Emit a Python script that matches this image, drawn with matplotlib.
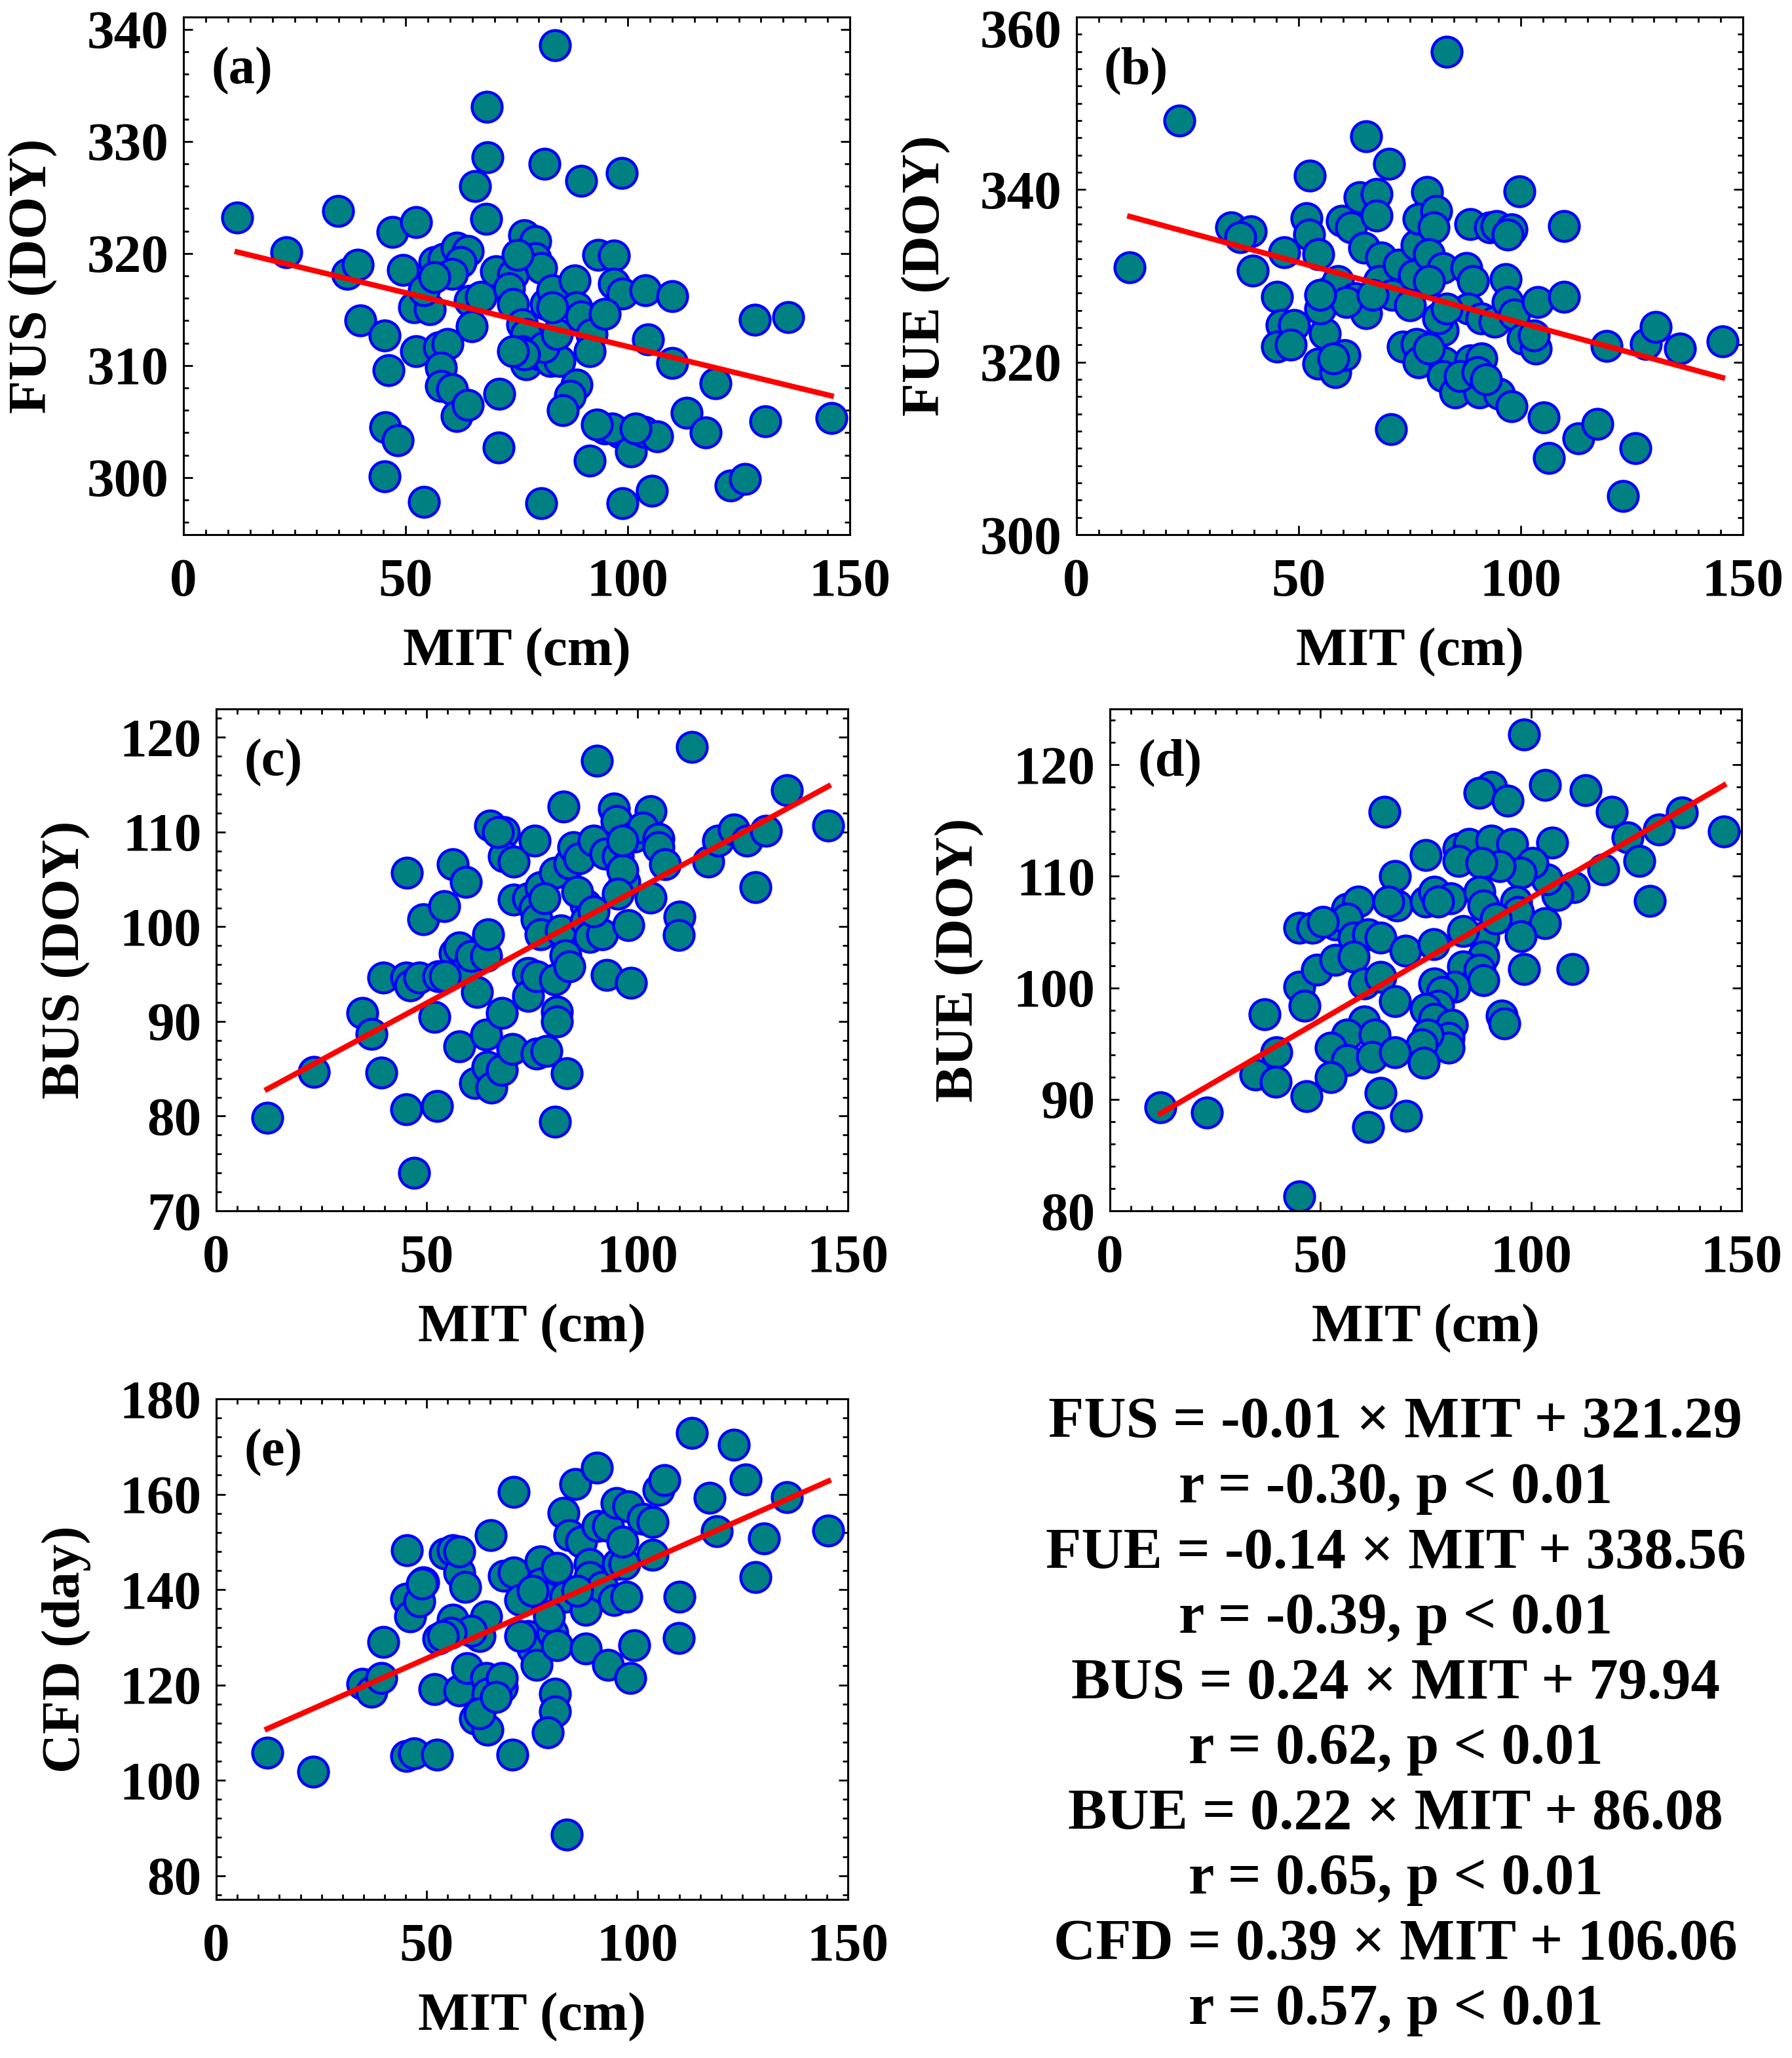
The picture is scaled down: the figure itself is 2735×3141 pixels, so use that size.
import numpy as np
import matplotlib.pyplot as plt
from matplotlib.ticker import MultipleLocator
from matplotlib.transforms import ScaledTranslation

plt.rcParams['font.family'] = ['Liberation Serif', 'DejaVu Serif']
plt.rcParams['font.weight'] = 'bold'
plt.rcParams['axes.labelweight'] = 'bold'

# MIT (cm) and phenology values
mit_a = [12.1, 23.1, 34.8, 36.9, 39.3, 39.8, 45.3, 46.1, 45.4, 48.3,
         45.3, 47.0, 52.4, 49.4, 54.2, 52.4, 51.9, 55.5, 54.1, 56.5,
         57.5, 59.5, 58.0, 58.0, 60.5, 61.5, 64.0, 58.5, 61.5, 64.0,
         62.4, 64.4, 66.9, 64.9, 65.6, 68.3, 68.5, 68.1, 71.1, 71.0,
         70.3, 74.2, 73.3, 74.2, 76.7, 79.2, 79.2, 80.6, 76.2, 77.2,
         76.2, 77.2, 80.1, 81.6, 83.1, 82.6, 84.6, 83.6, 81.3, 89.5,
         98.7, 88.0, 88.5, 89.5, 91.9, 91.4, 88.5, 87.0, 85.4, 80.6,
         91.4, 93.4, 96.9, 96.9, 98.8, 104.0, 110.1, 94.9, 104.5, 110.1,
         119.7, 94.9, 98.3, 100.8, 103.7, 106.7, 98.8, 105.5, 113.3, 117.5,
         128.6, 136.2, 131.0, 123.2, 126.4, 145.8, 81.1, 76.7, 84.1, 74.2,
         83.1, 75.2, 60.5, 56.5, 96.4, 93.0, 101.8]
fus = [323.2, 320.1, 323.8, 318.2, 319.0, 314.0, 312.7, 309.6, 304.5, 303.3,
       300.1, 321.9, 322.8, 318.5, 297.8, 311.3, 315.2, 315.0, 316.7, 319.2,
       311.6, 311.9, 309.8, 308.2, 307.9, 305.5, 306.5, 319.5, 320.5, 320.2,
       319.2, 315.8, 316.1, 313.5, 326.0, 333.1, 328.6, 323.1, 307.5, 302.7,
       318.4, 318.1, 316.9, 315.5, 321.6, 321.1, 319.6, 318.7, 313.7, 312.8,
       311.3, 310.1, 311.0, 315.5, 316.7, 310.4, 310.4, 338.6, 328.0, 326.5,
       327.2, 317.6, 315.2, 314.4, 312.8, 311.3, 308.3, 307.3, 306.0, 297.7,
       301.5, 319.9, 319.8, 317.3, 316.4, 316.7, 316.2, 314.6, 312.3, 310.2,
       308.4, 304.4, 304.0, 302.3, 304.1, 303.7, 297.7, 298.8, 305.8, 304.0,
       314.1, 314.3, 305.0, 299.3, 299.9, 305.3, 311.6, 311.0, 312.8, 311.3,
       315.2, 319.9, 318.2, 317.9, 304.4, 304.7, 304.4]

mit_b = [12.0, 23.2, 83.3, 65.2, 70.3, 52.5, 99.7, 109.8, 34.8, 39.2,
         36.8, 39.7, 46.8, 51.8, 52.3, 54.4, 45.1, 46.1, 49.0, 45.1,
         48.2, 55.9, 54.4, 58.3, 60.3, 54.9, 56.9, 58.8, 59.8, 61.8,
         63.7, 67.6, 67.6, 64.7, 68.6, 62.7, 65.2, 68.1, 71.1, 72.5,
         76.5, 76.0, 75.0, 78.9, 77.0, 80.9, 80.4, 79.4, 82.4, 79.4,
         73.5, 76.5, 77.0, 82.4, 82.8, 82.4, 85.3, 88.7, 91.2, 90.7,
         95.1, 98.0, 88.7, 93.1, 94.6, 98.0, 87.7, 89.2, 88.2, 91.2,
         94.1, 96.6, 97.1, 98.5, 100.5, 103.4, 103.9, 109.8, 105.1, 106.4,
         113.0, 117.2, 119.3, 128.1, 130.4, 135.8, 125.8, 123.0, 145.4, 70.8,
         57.8, 81.4, 79.4, 86.3, 90.2, 60.8, 66.7, 83.3, 92.2, 102.9,
         97.1, 54.9]
fue = [331.0, 348.0, 356.0, 346.2, 343.0, 341.6, 339.8, 335.8, 335.6, 335.2,
       334.5, 330.6, 332.7, 336.7, 334.8, 332.5, 327.6, 324.3, 324.3, 321.8,
       322.0, 323.3, 319.8, 318.8, 320.8, 326.2, 328.2, 329.4, 336.4, 335.6,
       339.1, 339.5, 337.0, 333.3, 332.1, 327.4, 325.7, 329.4, 327.8, 331.3,
       333.6, 330.1, 326.6, 339.7, 336.6, 337.5, 335.6, 332.5, 330.9, 329.4,
       321.8, 322.1, 320.0, 323.7, 320.0, 318.4, 316.5, 320.2, 320.4, 316.5,
       316.3, 314.9, 336.0, 335.6, 335.8, 335.4, 330.9, 329.4, 326.2, 325.1,
       324.7, 329.6, 327.0, 325.5, 322.7, 321.6, 327.0, 327.6, 313.6, 308.9,
       311.2, 312.8, 321.9, 322.1, 324.1, 321.6, 310.0, 304.5, 322.4, 312.2,
       320.4, 325.1, 321.6, 318.4, 318.8, 327.0, 327.8, 326.2, 318.0, 323.1,
       334.8, 327.8]

mit_c = [12.1, 23.2, 34.7, 36.8, 39.2, 39.7, 45.3, 45.1, 47.0, 52.4,
         45.1, 46.0, 48.2, 49.2, 54.1, 56.2, 59.3, 51.8, 52.8, 55.7,
         56.7, 57.7, 59.6, 62.0, 60.6, 64.1, 64.6, 57.7, 61.5, 64.1,
         64.4, 65.4, 67.8, 70.3, 67.8, 65.0, 68.3, 68.3, 70.7, 75.6,
         70.7, 74.1, 77.0, 75.6, 76.1, 77.0, 74.1, 74.1, 76.1, 76.1,
         78.5, 80.4, 80.9, 80.9, 83.3, 82.4, 80.4, 81.9, 82.9, 80.4,
         83.8, 84.8, 86.2, 87.7, 87.7, 88.7, 90.4, 91.6, 89.6, 92.5,
         92.7, 94.5, 95.0, 95.4, 96.9, 97.9, 98.5, 99.3, 103.2, 101.3,
         105.1, 105.1, 103.2, 106.6, 110.0, 109.8, 112.9, 116.9, 119.2, 122.9,
         126.0, 130.6, 128.1, 135.5, 145.4, 96.4, 83.8, 96.4, 78.0, 85.8,
         89.6, 95.4, 54.3, 66.9]
bus = [79.8, 84.7, 90.9, 88.7, 84.6, 94.6, 105.7, 80.7, 74.0, 81.1,
       94.6, 93.8, 94.6, 100.8, 102.2, 106.6, 104.7, 90.5, 94.8, 95.1,
       97.2, 97.8, 95.6, 93.1, 96.9, 96.9, 99.2, 87.4, 83.5, 88.6,
       85.2, 83.0, 84.9, 87.1, 90.9, 110.7, 110.0, 107.4, 106.9, 109.1,
       102.9, 103.0, 104.2, 102.0, 100.8, 99.2, 95.1, 92.7, 94.8, 86.6,
       86.9, 79.4, 91.0, 90.0, 84.5, 112.7, 94.4, 99.6, 97.0, 105.7,
       106.7, 108.4, 107.2, 102.3, 100.6, 98.9, 117.5, 99.2, 109.1, 107.7,
       94.9, 112.5, 111.2, 107.4, 104.7, 100.2, 94.1, 109.5, 112.2, 110.5,
       109.3, 108.4, 103.1, 106.6, 101.1, 99.1, 119.0, 106.9, 109.1, 110.3,
       109.1, 110.1, 104.2, 114.4, 110.7, 106.0, 95.8, 109.1, 103.0, 103.7,
       101.6, 103.5, 94.8, 110.0]

mit_d = [12.0, 23.0, 36.7, 39.6, 34.5, 39.4, 45.0, 46.7, 44.9, 48.1,
         44.9, 46.2, 49.1, 53.5, 53.5, 56.4, 58.9, 56.4, 57.9, 61.3,
         64.3, 57.9, 60.4, 64.3, 67.7, 70.1, 68.2, 65.2, 67.7, 75.0,
         76.9, 75.0, 77.0, 80.9, 82.8, 85.3, 82.8, 90.6, 87.7, 94.5,
         90.6, 95.5, 98.4, 103.3, 112.9, 119.2, 135.8, 145.8, 130.4, 122.9,
         125.8, 105.1, 117.2, 110.2, 106.3, 103.8, 100.4, 97.5, 92.6, 88.2,
         87.7, 88.7, 96.5, 97.0, 103.3, 97.5, 88.7, 83.8, 88.7, 98.4,
         109.9, 128.2, 83.8, 87.7, 88.7, 81.8, 77.0, 78.9, 77.9, 75.0,
         77.0, 81.3, 80.4, 80.4, 75.5, 74.0, 74.5, 93.1, 93.6, 60.4,
         56.4, 52.5, 56.4, 62.8, 62.3, 67.7, 52.5, 64.3, 70.3, 61.3,
         66.2, 50.6, 77.9, 91.6]
bue = [89.3, 88.8, 97.6, 94.2, 92.2, 91.6, 81.3, 90.3, 105.4, 105.4,
       100.1, 98.4, 101.6, 102.5, 105.7, 107.1, 107.7, 106.2, 104.5, 104.8,
       104.5, 102.8, 100.4, 101.0, 98.8, 103.3, 107.4, 115.8, 110.0, 111.9,
       103.9, 107.7, 108.6, 108.0, 112.5, 112.9, 111.4, 118.0, 117.5, 116.8,
       113.2, 112.9, 122.7, 118.2, 117.7, 115.8, 115.7, 114.0, 114.2, 113.5,
       111.4, 113.0, 110.6, 109.0, 108.3, 109.7, 111.2, 110.3, 110.9, 111.2,
       108.6, 107.4, 107.7, 106.8, 105.8, 104.6, 104.5, 105.1, 102.8, 101.7,
       101.7, 107.8, 101.9, 101.6, 100.7, 100.1, 100.4, 99.6, 98.4, 98.1,
       97.2, 96.7, 95.5, 94.6, 95.8, 94.9, 93.3, 97.5, 96.8, 97.0,
       95.8, 94.6, 93.5, 95.8, 93.8, 94.2, 92.0, 90.6, 88.5, 87.5,
       107.7, 105.9, 107.7, 106.2]

mit_e = [12.1, 23.1, 34.7, 36.8, 39.2, 39.7, 45.3, 45.1, 47.0, 52.4,
         45.1, 46.0, 48.2, 49.2, 54.3, 56.2, 51.8, 52.8, 56.2, 57.7,
         59.1, 57.7, 59.6, 61.5, 64.4, 64.1, 64.4, 67.8, 67.8, 62.5,
         64.1, 60.6, 65.2, 70.7, 70.4, 68.3, 70.7, 72.2, 74.1, 75.1,
         76.1, 77.0, 77.0, 78.0, 75.1, 80.4, 80.4, 78.8, 80.9, 79.9,
         80.9, 82.4, 83.3, 85.3, 90.4, 83.8, 86.7, 82.9, 88.7, 88.7,
         87.7, 87.7, 90.6, 93.0, 95.0, 97.9, 91.6, 94.5, 95.4, 93.0,
         97.4, 99.3, 98.4, 101.3, 103.7, 105.1, 106.4, 103.7, 96.9, 110.0,
         109.8, 112.9, 117.2, 118.9, 122.9, 125.7, 130.1, 128.1, 135.5, 145.4,
         48.9, 55.7, 79.0, 85.8, 96.4, 62.5, 66.4, 72.2, 57.7, 53.8]
cfd = [105.8, 101.8, 120.2, 118.5, 121.5, 129.0, 148.2, 105.1, 105.6, 105.4,
       138.1, 134.4, 137.5, 141.5, 147.5, 148.3, 119.1, 129.7, 133.7, 143.6,
       140.5, 118.8, 123.5, 113.0, 110.6, 121.5, 118.1, 119.5, 121.5, 130.3,
       134.4, 131.3, 151.4, 160.5, 105.4, 142.9, 143.6, 137.8, 130.3, 127.6,
       124.2, 145.9, 141.2, 138.5, 139.8, 118.1, 114.4, 110.0, 144.6, 131.0,
       128.3, 156.1, 88.6, 162.2, 165.6, 151.4, 150.0, 138.5, 145.3, 142.6,
       135.8, 127.6, 153.4, 153.4, 158.2, 157.5, 140.5, 137.8, 145.3, 124.2,
       138.5, 128.3, 121.5, 154.8, 154.1, 160.9, 162.9, 147.3, 145.3, 138.5,
       129.8, 172.8, 159.2, 152.3, 170.4, 163.1, 150.7, 142.6, 159.4, 152.4,
       141.2, 131.0, 134.4, 139.8, 150.0, 114.0, 117.4, 130.3, 148.0, 130.3]

# fitted lines (slope of FUS taken from the drawn line)
slopes = [-0.096, -0.14, 0.24, 0.22, 0.39]
intercepts = [321.29, 338.56, 79.94, 86.08, 106.06]

ylabels = ['FUS (DOY)', 'FUE (DOY)', 'BUS (DOY)', 'BUE (DOY)', 'CFD (day)']
tags = ['(a)', '(b)', '(c)', '(d)', '(e)']
eq_lines = ['FUS = -0.01 \u00d7 MIT + 321.29', 'r = -0.30, p < 0.01',
            'FUE = -0.14 \u00d7 MIT + 338.56', 'r = -0.39, p < 0.01',
            'BUS = 0.24 \u00d7 MIT + 79.94', 'r = 0.62, p < 0.01',
            'BUE = 0.22 \u00d7 MIT + 86.08', 'r = 0.65, p < 0.01',
            'CFD = 0.39 \u00d7 MIT + 106.06', 'r = 0.57, p < 0.01']

xs = [mit_a, mit_b, mit_c, mit_d, mit_e]
ys = [fus, fue, bus, bue, cfd]
ylims = [(294.9, 341.1), (300, 360), (70, 123), (80, 125), (75, 180)]
ymajor = [10, 20, 10, 10, 20]
yminor = [2, 2, 2, 2, 4]

W, H = 2735, 3141
# axes boxes in pixels: left, right, top, bottom
boxes = [(280, 1297, 26, 816), (1643, 2660, 26, 816),
         (330, 1294, 1082, 1848), (1694, 2658, 1082, 1848),
         (330, 1294, 2135, 2899)]

fig = plt.figure(figsize=(W / 100, H / 100), dpi=100)

for i in range(5):
    l, r, t, b = boxes[i]
    wpx, hpx = r - l, b - t
    ax = fig.add_axes([l / W, 1 - b / H, wpx / W, hpx / H])
    ax.plot(xs[i], ys[i], 'o', ls='none', ms=33, mfc='#008080',
            mec='#0000ff', mew=3.2)
    xl = np.array([min(xs[i]), max(xs[i])])
    ax.plot(xl, slopes[i] * xl + intercepts[i], color='#ff0000', lw=6)
    ax.set_xlim(0, 150)
    ax.set_ylim(*ylims[i])
    ax.xaxis.set_major_locator(MultipleLocator(50))
    ax.xaxis.set_minor_locator(MultipleLocator(5))
    ax.yaxis.set_major_locator(MultipleLocator(ymajor[i]))
    ax.yaxis.set_minor_locator(MultipleLocator(yminor[i]))
    ax.tick_params(which='both', direction='in', top=True, right=True,
                   width=2, labelsize=60)
    ax.tick_params(which='major', length=10)
    ax.tick_params(which='minor', length=6)
    ax.tick_params(axis='x', pad=26)
    ax.tick_params(axis='y', pad=16)
    for sp in ax.spines.values():
        sp.set_linewidth(2.2)
    ax.set_xlabel('MIT (cm)', fontsize=60, va='center')
    ax.xaxis.set_label_coords(0.5, -180 / hpx)
    ax.set_ylabel(ylabels[i], fontsize=60, va='center')
    ax.yaxis.set_label_coords(-229 / wpx, 0.5)
    ax.text(42 / wpx, 1 - 82 / hpx, tags[i], transform=ax.transAxes,
            ha='left', va='center', fontsize=58)
    if i == 1:
        # top tick label sits a bit lower in the original
        fig.canvas.draw()
        for tk in ax.yaxis.get_major_ticks():
            if abs(tk.get_loc() - 360) < 1e-6:
                tk.label1.set_transform(tk.label1.get_transform() +
                                        ScaledTranslation(0, -0.17, fig.dpi_scale_trans))

for j, s in enumerate(eq_lines):
    fig.text(2130 / W, 1 - (2193 + 99.6 * j) / H, s, ha='center',
             va='baseline', fontsize=64)

fig.savefig('out.png', dpi=100)
